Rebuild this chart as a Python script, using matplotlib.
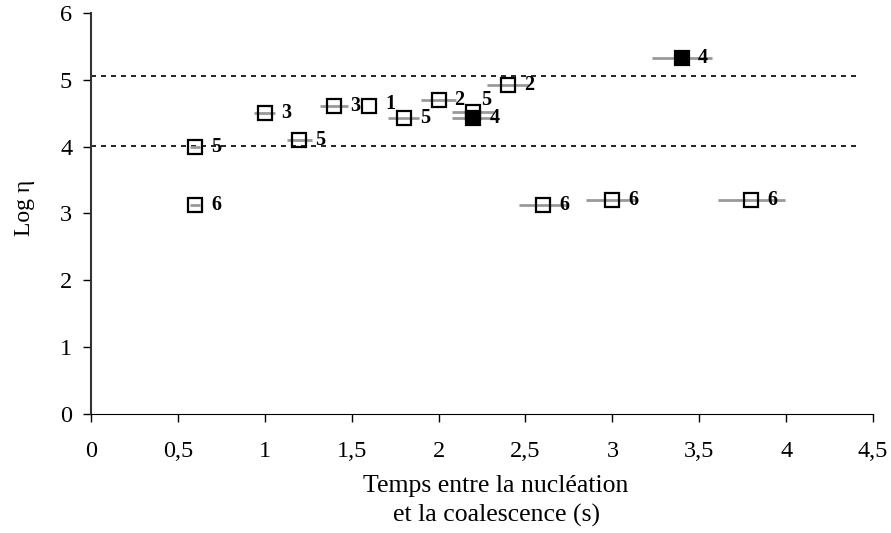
import matplotlib
matplotlib.use("Agg")
import matplotlib.pyplot as plt

plt.rcParams['font.family'] = ['Liberation Serif', 'DejaVu Serif']

# open squares
x_open = [0.6, 0.6, 1.0, 1.2, 1.4, 1.6, 1.8, 2.0, 2.2, 2.4, 2.6, 3.0, 3.8]
y_open = [4.0, 3.12, 4.5, 4.1, 4.6, 4.6, 4.42, 4.7, 4.51, 4.92, 3.12, 3.2, 3.2]
err_open = [0.03, 0.03, 0.06, 0.07, 0.08, 0.0, 0.09, 0.1, 0.12, 0.12, 0.14, 0.15, 0.19]
lab_open = ['5', '6', '3', '5', '3', '1', '5', '2', '5', '2', '6', '6', '6']

# filled squares
x_fill = [2.2, 3.4]
y_fill = [4.42, 5.32]
err_fill = [0.12, 0.17]
lab_fill = ['4', '4']

# reference levels (dashed)
levels = [5.06, 4.01]

# label offsets in pixels (dx, dy)
off_open = [(16, 0), (16, 0), (16, 0), (16, 0), (16, 0), (16, 2), (16, 0),
            (16, 0), (8, 12), (16, 0), (16, 0), (16, 0), (16, 0)]
off_fill = [(16, 0), (16, 0)]

fig = plt.figure(figsize=(8.91, 5.33), dpi=100)
ax = fig.add_axes([0.102, 0.223, 0.878, 0.753])

for lv in levels:
    ax.plot([0, 4.4], [lv, lv], color='black', linestyle=(0, (3, 3)), linewidth=1.2, zorder=1)

ax.errorbar(x_open, y_open, xerr=err_open, fmt='none', ecolor='#999999',
            elinewidth=2, capsize=0, zorder=2)
ax.errorbar(x_fill, y_fill, xerr=err_fill, fmt='none', ecolor='#999999',
            elinewidth=2, capsize=0, zorder=2)
ax.plot(x_open, y_open, linestyle='none', marker='s', markersize=10,
        markerfacecolor='none', markeredgecolor='black', markeredgewidth=1.6, zorder=3)
ax.plot(x_fill, y_fill, linestyle='none', marker='s', markersize=10,
        markerfacecolor='black', markeredgecolor='black', markeredgewidth=1.6, zorder=4)

for x, y, t, (dx, dy) in zip(x_open + x_fill, y_open + y_fill,
                             lab_open + lab_fill, off_open + off_fill):
    ax.annotate(t, (x, y), xytext=(dx * 0.72, dy * 0.72), textcoords='offset points',
                ha='left', va='center', fontsize=14.5, fontweight='bold')

ax.set_xlim(0, 4.5)
ax.set_ylim(0, 6)
ax.set_xticks([0, 0.5, 1, 1.5, 2, 2.5, 3, 3.5, 4, 4.5])
ax.set_xticklabels(['0', '0,5', '1', '1,5', '2', '2,5', '3', '3,5', '4', '4,5'])
ax.set_yticks(range(7))
ax.spines['top'].set_visible(False)
ax.spines['right'].set_visible(False)
ax.spines['left'].set_color('#333333')
ax.spines['left'].set_linewidth(1.5)
ax.tick_params(direction='out', length=5.5, width=1, labelsize=17.5)
ax.tick_params(axis='x', pad=14)
ax.tick_params(axis='y', pad=8)
ax.set_xlabel('Temps entre la nucléation\net la coalescence (s)', fontsize=18.5,
              linespacing=1.4)
ax.xaxis.set_label_coords(0.518, -0.152, transform=ax.transAxes)
ax.xaxis.label.set_va('top')
ax.set_ylabel('Log η', fontsize=17)
ax.yaxis.set_label_coords(-0.072, 0.514)

fig.savefig('out.png', dpi=100)
